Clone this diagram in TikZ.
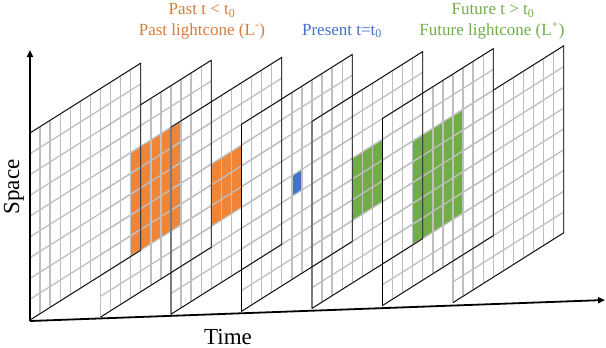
\documentclass[tikz,border=0pt]{standalone}
\usepackage{fontspec}
\setmainfont{Liberation Serif}
\usetikzlibrary{arrows.meta}
\definecolor{fillorange}{HTML}{F08437}
\definecolor{fillblue}{HTML}{4472C4}
\definecolor{fillgreen}{HTML}{70AD47}
\definecolor{txtorange}{HTML}{D97B3A}
\definecolor{txtblue}{HTML}{4472C4}
\definecolor{txtgreen}{HTML}{70AD47}
\definecolor{gridgray}{HTML}{BFBFBF}
\begin{document}
\begin{tikzpicture}[x=1pt,y=-1pt,
  slicesys/.style={shift={(30+70.5*#1,133-2.9*#1)},x={(10.07pt,6.35pt)},y={(0pt,-20.78pt)}},
  gridln/.style={draw=gridgray,line width=1.3pt},
  outln/.style={draw=black,line width=0.8pt,line join=miter},
  axisln/.style={draw=black,line width=1.8pt,-{Triangle[length=7pt,width=6pt]}},
  hdr/.style={font=\fontsize{17}{20}\selectfont,anchor=base,inner sep=0pt},
  axlabel/.style={font=\fontsize{23}{27}\selectfont,inner sep=0pt}]
\useasboundingbox (0,0) rectangle (606,348);
% coloured light-cone cells
\begin{scope}[slicesys=1]
  \fill[fillorange] (3,2) -- (8,2) -- (8,7) -- (3,7) -- cycle;
\end{scope}
\begin{scope}[slicesys=2]
  \fill[fillorange] (4,3) -- (7,3) -- (7,6) -- (4,6) -- cycle;
\end{scope}
\begin{scope}[slicesys=3]
  \fill[fillblue] (5,4) -- (6,4) -- (6,5) -- (5,5) -- cycle;
\end{scope}
\begin{scope}[slicesys=4]
  \fill[fillgreen] (4,3) -- (7,3) -- (7,6) -- (4,6) -- cycle;
\end{scope}
\begin{scope}[slicesys=5]
  \fill[fillgreen] (3,2) -- (8,2) -- (8,7) -- (3,7) -- cycle;
\end{scope}
% grids
\foreach \k in {0,...,6}{
  \begin{scope}[slicesys=\k]
    \foreach \i in {0,...,11} \draw[gridln] (\i,0) -- (\i,9);
    \foreach \j in {0,...,9} \draw[gridln] (0,\j) -- (11,\j);
  \end{scope}
}
% outlines
\foreach \k in {0,2,3,4,5}{
  \begin{scope}[slicesys=\k]
    \draw[outln] (0,0) -- (11,0) -- (11,9) -- (0,9) -- cycle;
  \end{scope}
}
\foreach \k in {1,6}{
  \begin{scope}[slicesys=\k]
    \draw[outln] (4,0) -- (11,0) -- (11,9) -- (0,9);
  \end{scope}
}
% axes
\coordinate (origin) at (30,321);
\coordinate (spaceend) at (30,50);
\coordinate (timeend) at (605,300);
\draw[axisln] (origin) -- (spaceend);
\draw[axisln] (origin) -- (timeend);
% labels
\node[axlabel,rotate=90] (space) at (14,187) {Space};
\node[axlabel] (time) at (228,337) {Time};
\node[hdr,text=txtorange] (past1) at (202,15) {Past t < t\textsubscript{0}};
\node[hdr,text=txtorange] (past2) at (202,35) {Past lightcone (L\textsuperscript{-})};
\node[hdr,text=txtblue] (present) at (342,35) {Present t=t\textsubscript{0}};
\node[hdr,text=txtgreen] (future1) at (493,15) {Future t > t\textsubscript{0}};
\node[hdr,text=txtgreen] (future2) at (492,35) {Future lightcone (L\textsuperscript{+})};
\end{tikzpicture}
\end{document}
